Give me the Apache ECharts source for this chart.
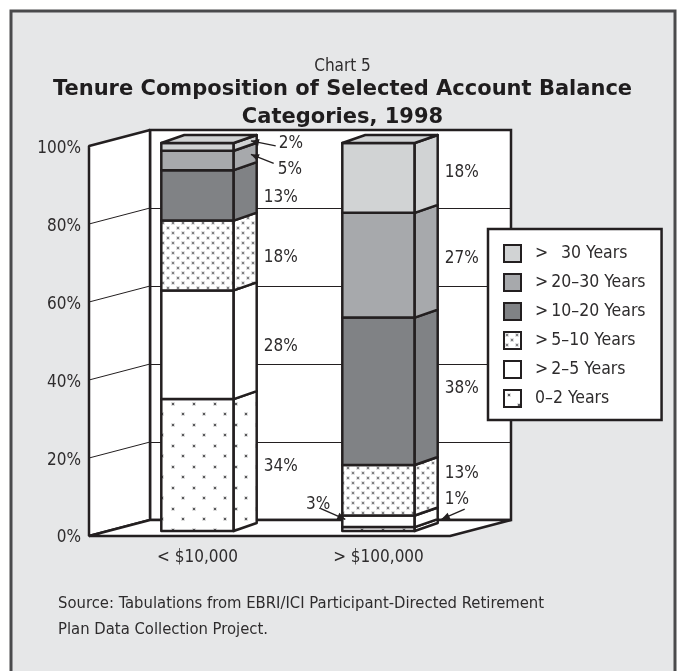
<!DOCTYPE html>
<html>
<head>
<meta charset="utf-8">
<script src="https://cdn.jsdelivr.net/npm/echarts@6/dist/echarts.min.js"></script>
<style>
  html, body { margin: 0; padding: 0; background: #fff; }
  #chart { width: 685px; height: 671px; }
</style>
</head>
<body>
<div id="chart"></div>
<script>
// ---- data (bottom segment first) ----
const categories = ['< $10,000', '> $100,000'];
const tenureNames = ['0–2 Years', '>\u20092–5 Years', '>\u20095–10 Years', '>\u200910–20 Years', '>\u200920–30 Years', '>\u2002 30 Years'];
const lowBalance = [34, 28, 18, 13, 5, 2];
const highBalance = [1, 3, 13, 38, 27, 18];
const axisTicks = [0, 20, 40, 60, 80, 100];

const NARROW = '"Liberation Sans Narrow", "DejaVu Sans Condensed", sans-serif';
const INK = '#231f20';
const TEXT = '#2e2c2d';

// depth of the floor (front edge relative to back wall) and of the bars
const WALL_DX = -61, WALL_DY = 16;
const BAR_DX = 23, BAR_DY = -8;

function dots(w, h, pts, core, halo) {
  const c = document.createElement('canvas');
  c.width = w; c.height = h;
  const g = c.getContext('2d');
  g.fillStyle = '#fff';
  g.fillRect(0, 0, w, h);
  pts.forEach(p => {
    g.fillStyle = halo;
    g.fillRect(p[0] - 1, p[1] - 1, 4, 4);
    g.fillStyle = core;
    g.fillRect(p[0], p[1], 2, 2);
  });
  return { image: c, repeat: 'repeat' };
}

const fills = [
  dots(21, 21, [[4, 4], [14, 14]], '#5a5a5c', '#e0e0e0'),
  '#ffffff',
  dots(10, 10, [[2, 2], [7, 7]], '#808082', '#e2e2e3'),
  '#808285',
  '#a7a9ac',
  '#d1d3d4'
];

// label nudges: key = category-segment
const labelTweaks = {
  '0-5': { dx: 15, dy: -5, arrow: { from: [-3, 2], tx: 0.75, ty: 0.5 } },
  '0-4': { dx: 14, dy: 7, arrow: { from: [-4, -6], tx: 0.75, ty: 0.5 } },
  '1-5': { dy: -7 },
  '1-4': { dy: -9 },
  '1-3': { dy: -5 },
  '1-2': { dy: -19 },
  '1-1': { left: true, dy: -19, arrow: { from: [-10, 4], front: [3, -2] } },
  '1-0': { dy: -31, arrow: { from: [20, 9], tx: 1, ty: 1, off: [4, 0] } }
};

function stackRows(values) {
  let acc = 0;
  return values.map(v => { const r = [acc, acc + v, v]; acc += v; return r; });
}
const lowRows = stackRows(lowBalance);
const highRows = stackRows(highBalance);

function arrowHead(from, to) {
  const ang = Math.atan2(to[1] - from[1], to[0] - from[0]);
  const L = 8, W = 3.5;
  const bx = to[0] - L * Math.cos(ang), by = to[1] - L * Math.sin(ang);
  return {
    type: 'polygon',
    shape: { points: [to, [bx + W * Math.sin(ang), by - W * Math.cos(ang)], [bx - W * Math.sin(ang), by + W * Math.cos(ang)]] },
    style: { fill: INK }
  };
}

function makeBarRenderer(k) {
  return function (params, api) {
    const cat = api.value(0), lo = api.value(1), hi = api.value(2), pct = api.value(3);
    const p0 = api.coord([cat, lo]);
    const p1 = api.coord([cat, hi]);
    const w = api.size([1, 0])[0] * 0.4;
    const xl = p0[0] - w / 2, xr = p0[0] + w / 2, yb = p0[1], yt = p1[1];
    const edge = { stroke: INK, lineWidth: 2.5, lineJoin: 'round' };
    const fill = fills[k];
    const children = [
      { type: 'rect', shape: { x: xl, y: yt, width: w, height: yb - yt }, style: Object.assign({ fill }, edge) },
      { type: 'polygon', shape: { points: [[xr, yb], [xr, yt], [xr + BAR_DX, yt + BAR_DY], [xr + BAR_DX, yb + BAR_DY]] }, style: Object.assign({ fill }, edge) }
    ];
    if (k === tenureNames.length - 1) {
      children.push({ type: 'polygon', shape: { points: [[xl, yt], [xr, yt], [xr + BAR_DX, yt + BAR_DY], [xl + BAR_DX, yt + BAR_DY]] }, style: Object.assign({ fill }, edge) });
    }
    const tw = labelTweaks[cat + '-' + k] || {};
    const mid = (yb + yt) / 2;
    let tx = xr + BAR_DX + 7 + (tw.dx || 0);
    const ty = mid + 2 + (tw.dy || 0);
    if (tw.left) tx = xl - 12;
    children.push({
      type: 'text',
      style: { text: pct + '%', x: tx, y: ty, fill: TEXT, fontSize: 17, fontFamily: NARROW, align: tw.left ? 'right' : 'left', verticalAlign: 'middle' }
    });
    if (tw.arrow) {
      const a = tw.arrow;
      const from = [tx + a.from[0], ty + a.from[1]];
      let to;
      if (a.front) {
        to = [xl + a.front[0], mid + a.front[1]];
      } else {
        const off = a.off || [0, 0];
        to = [xr + BAR_DX * a.tx + off[0], yb + (yt - yb) * a.ty + BAR_DY * a.tx + off[1]];
      }
      children.push({ type: 'line', shape: { x1: from[0], y1: from[1], x2: to[0], y2: to[1] }, style: { stroke: INK, lineWidth: 1.3 } });
      children.push(arrowHead(from, to));
    }
    return { type: 'group', children };
  };
}

function renderWalls(params, api) {
  const bl = api.coord([0, 0]), tl = api.coord([0, 100]), br = api.coord([1, 0]);
  const f = p => [p[0] + WALL_DX, p[1] + WALL_DY];
  const edge = { stroke: INK, lineWidth: 2.5, lineJoin: 'bevel' };
  const children = [
    { type: 'polygon', shape: { points: [f(tl), tl, bl, f(bl)] }, style: Object.assign({ fill: '#fff' }, edge) },
    { type: 'polygon', shape: { points: [f(bl), bl, br, f(br)] }, style: Object.assign({ fill: '#fff' }, edge) }
  ];
  axisTicks.slice(1, -1).forEach(v => {
    const b = api.coord([0, v]), a = f(b);
    children.push({ type: 'line', shape: { x1: a[0], y1: a[1], x2: b[0], y2: b[1] }, style: { stroke: INK, lineWidth: 1 } });
  });
  return { type: 'group', children };
}

const legendOrder = [5, 4, 3, 2, 1, 0];

const chart = echarts.init(document.getElementById('chart'), null, { renderer: 'canvas' });

const barSeries = tenureNames.map((name, k) => ({
  name,
  type: 'custom',
  xAxisIndex: 0,
  yAxisIndex: 0,
  z: 3,
  clip: false,
  silent: true,
  itemStyle: { color: fills[k] },
  renderItem: makeBarRenderer(k),
  data: [
    [0, lowRows[k][0], lowRows[k][1], lowRows[k][2]],
    [1, highRows[k][0], highRows[k][1], highRows[k][2]]
  ]
}));

chart.setOption({
  animation: false,
  backgroundColor: '#fff',
  graphic: [{
    type: 'rect',
    z: -100,
    shape: { x: 11, y: 11, width: 664, height: 700 },
    style: { fill: '#e6e7e8', stroke: '#4a4a4c', lineWidth: 3 }
  }],
  title: [
    { text: 'Chart 5', left: 'center', top: 53, textStyle: { fontFamily: NARROW, fontSize: 17, fontWeight: 'normal', color: TEXT } },
    {
      text: 'Tenure Composition of Selected Account Balance',
      left: 'center', top: 74,
      textStyle: { fontFamily: '"DejaVu Sans", sans-serif', fontSize: 21, fontWeight: 'bold', color: '#1f1d1e' }
    },
    {
      text: 'Categories, 1998',
      left: 'center', top: 102,
      textStyle: { fontFamily: '"DejaVu Sans", sans-serif', fontSize: 21, fontWeight: 'bold', color: '#1f1d1e' }
    },
    {
      text: 'Source: Tabulations from EBRI/ICI Participant-Directed Retirement\nPlan Data Collection Project.',
      left: 53, top: 586,
      textStyle: { fontFamily: NARROW, fontSize: 16.5, fontWeight: 'normal', lineHeight: 26, color: TEXT }
    }
  ],
  legend: {
    orient: 'vertical',
    left: 488, top: 229,
    icon: 'rect',
    itemWidth: 17, itemHeight: 17, itemGap: 10,
    padding: [15, 16, 12, 15],
    backgroundColor: '#fff',
    borderColor: INK, borderWidth: 2.5,
    selectedMode: false,
    textStyle: { fontFamily: NARROW, fontSize: 17.5, lineHeight: 17, color: TEXT, padding: [0, 0, 0, 9] },
    data: legendOrder.map(i => ({ name: tenureNames[i], itemStyle: { color: fills[i], borderColor: INK, borderWidth: 2 } }))
  },
  grid: [
    { left: 107, top: 143, width: 362, height: 388 },
    { left: 150, top: 130, width: 361, height: 390, show: true, backgroundColor: '#fff', borderColor: INK, borderWidth: 2.5 },
    { left: 89, top: 149, width: 10, height: 389 }
  ],
  xAxis: [
    {
      type: 'category', gridIndex: 0, data: categories,
      axisLine: { show: false }, axisTick: { show: false },
      axisLabel: { margin: 18, fontFamily: NARROW, fontSize: 17, color: TEXT }
    },
    { type: 'value', gridIndex: 1, min: 0, max: 1, show: false },
    { type: 'value', gridIndex: 2, min: 0, max: 1, show: false }
  ],
  yAxis: [
    { type: 'value', gridIndex: 0, min: 0, max: 100, show: false },
    {
      type: 'value', gridIndex: 1, min: 0, max: 100, interval: 20,
      axisLine: { show: false }, axisTick: { show: false }, axisLabel: { show: false },
      splitLine: { show: true, lineStyle: { color: INK, width: 1 } }
    },
    {
      type: 'value', gridIndex: 2, min: 0, max: 100, interval: 20,
      axisLine: { show: false }, axisTick: { show: false }, splitLine: { show: false },
      axisLabel: { margin: 8, formatter: '{value}%', fontFamily: NARROW, fontSize: 17, color: TEXT }
    }
  ],
  series: [{
    type: 'custom',
    name: 'walls',
    xAxisIndex: 1,
    yAxisIndex: 1,
    z: 1,
    clip: false,
    silent: true,
    renderItem: renderWalls,
    data: [[0, 0]]
  }].concat(barSeries)
});
</script>
</body>
</html>
